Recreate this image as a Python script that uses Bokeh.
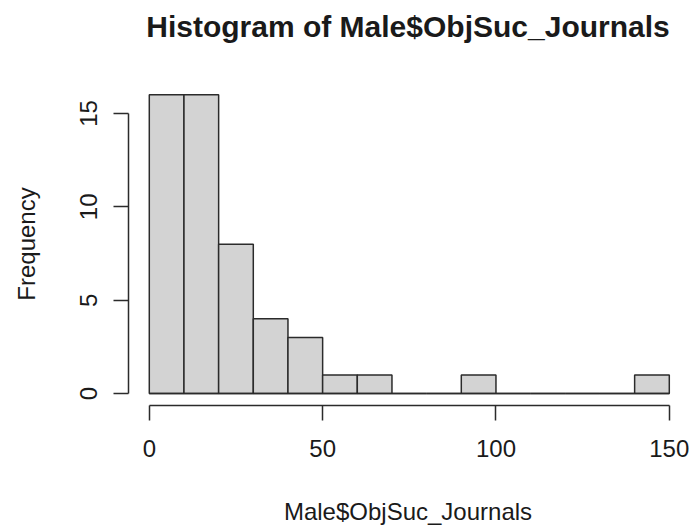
from bokeh.plotting import figure
from bokeh.models import FixedTicker, Range1d, ColumnDataSource, Title
from bokeh.embed import file_html
from bokeh.resources import INLINE

# Histogram data (bin edges and counts)
bin_left = [0, 10, 20, 30, 40, 50, 60, 70, 80, 90, 100, 110, 120, 130, 140]
bin_right = [10, 20, 30, 40, 50, 60, 70, 80, 90, 100, 110, 120, 130, 140, 150]
counts = [16, 16, 8, 4, 3, 1, 1, 0, 0, 1, 0, 0, 0, 0, 1]
x_ticks = [0, 50, 100, 150]
y_ticks = [0, 5, 10, 15]

title_text = "Histogram of Male$ObjSuc_Journals"
x_label = "Male$ObjSuc_Journals"
y_label = "Frequency"

src = ColumnDataSource(dict(left=bin_left, right=bin_right, top=counts,
                            bottom=[0] * len(counts)))

p = figure(width=689, height=527, output_backend="svg", toolbar_location=None,
           x_range=Range1d(-6, 155.25), y_range=Range1d(-0.64, 16.66),
           min_border_left=128, min_border_right=2, min_border_top=82,
           min_border_bottom=122, title=title_text)

p.background_fill_color = "white"
p.border_fill_color = "white"
p.outline_line_color = None
p.grid.visible = False

txt = "#1a1a1a"
fnt = "Liberation Sans"

p.title.text_font = fnt
p.title.text_font_size = "30px"
p.title.text_font_style = "bold"
p.title.text_color = txt
p.title.align = "center"
p.title.standoff = 10

# invisible spacer between the title and the plot area
p.add_layout(Title(text=" ", text_font_size="1px", standoff=32), "above")

p.quad(left="left", right="right", top="top", bottom="bottom", source=src,
       fill_color="#D3D3D3", line_color="#2b2b2b", line_width=1.5)
p.segment(x0="left", x1="right", y0="bottom", y1="bottom", source=src,
          line_color="#2b2b2b", line_width=1.5)

for ax, ticks, lab in ((p.xaxis[0], x_ticks, x_label), (p.yaxis[0], y_ticks, y_label)):
    ax.ticker = FixedTicker(ticks=ticks)
    ax.bounds = (ticks[0], ticks[-1])
    ax.axis_label = lab
    ax.axis_label_text_font = fnt
    ax.axis_label_text_font_size = "24px"
    ax.axis_label_text_font_style = "normal"
    ax.axis_label_text_color = txt
    ax.major_label_text_font = fnt
    ax.major_label_text_font_size = "24px"
    ax.major_label_text_color = txt
    ax.axis_line_color = "#2b2b2b"
    ax.axis_line_width = 1.5
    ax.major_tick_line_color = "#2b2b2b"
    ax.major_tick_line_width = 1.5
    ax.major_tick_out = 15
    ax.major_tick_in = 0
    ax.minor_tick_line_color = None

p.xaxis.major_label_standoff = 19
p.xaxis.axis_label_standoff = 38
p.yaxis.major_label_orientation = "vertical"
p.yaxis.major_label_standoff = 16
p.yaxis.axis_label_standoff = 38

open("out.html", "w").write(file_html(p, INLINE))
